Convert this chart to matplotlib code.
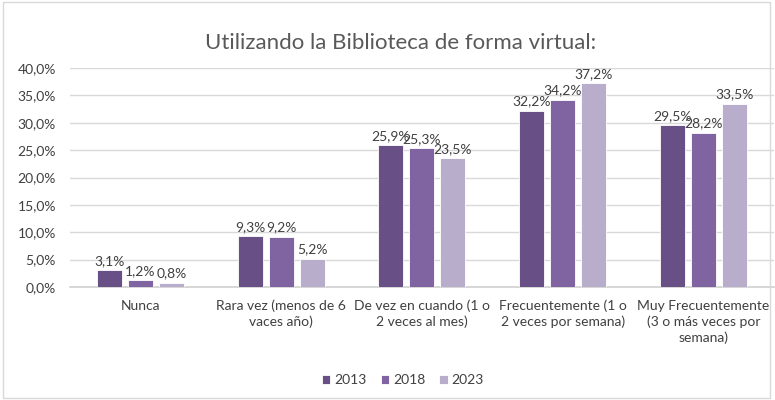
import numpy as np
import matplotlib.pyplot as plt
from matplotlib.patches import Rectangle

categories = ['Nunca', 'Rara vez (menos de 6\nvaces año)', 'De vez en cuando (1 o\n2 veces al mes)',
              'Frecuentemente (1 o\n2 veces por semana)', 'Muy Frecuentemente\n(3 o más veces por\nsemana)']
years = ['2013', '2018', '2023']
v2013 = [3.1, 9.3, 25.9, 32.2, 29.5]
v2018 = [1.2, 9.2, 25.3, 34.2, 28.2]
v2023 = [0.8, 5.2, 23.5, 37.2, 33.5]
colors = ['#684f86', '#8064a2', '#b8aecb']

plt.rcParams['font.family'] = ['Lato', 'DejaVu Sans']

fig = plt.figure(figsize=(7.75, 4), dpi=100)
ax = fig.add_axes([0.0903, 0.2825, 0.908, 0.5475])

x = np.arange(len(categories))
width = 0.177
offset = 0.22
for i, (vals, yr) in enumerate(zip([v2013, v2018, v2023], years)):
    pos = x + (i - 1) * offset
    ax.bar(pos, vals, width, color=colors[i], label=yr, edgecolor='white', linewidth=0.6, zorder=3)
    for p, v in zip(pos, vals):
        ax.text(p, v + 0.6, f'{v:.1f}%'.replace('.', ','), ha='center', va='bottom',
                fontsize=10, color='#404040')

ax.set_xlim(-0.5, len(categories) - 0.5)
ax.set_ylim(0, 40)
ax.set_yticks(np.arange(0, 41, 5))
ax.set_yticklabels([f'{t:.1f}%'.replace('.', ',') for t in np.arange(0, 41, 5)])
ax.set_xticks(x)
ax.set_xticklabels(categories, fontsize=10, color='#404040', linespacing=1.35)
ax.tick_params(axis='y', labelsize=10, labelcolor='#404040', length=0, pad=10)
ax.tick_params(axis='x', length=0, pad=9)
ax.grid(axis='y', color='#d9d9d9', linewidth=1, zorder=0)
for s in ['top', 'right', 'left']:
    ax.spines[s].set_visible(False)
ax.spines['bottom'].set_color('#d0d0d0')
ax.spines['bottom'].set_linewidth(1.2)

ax.set_title('Utilizando la Biblioteca de forma virtual:', fontsize=16, color='#595959',
             x=0.47, pad=14)

fig.legend(loc='center', bbox_to_anchor=(0.52, 0.05), ncol=3, frameon=False, fontsize=10,
           handlelength=0.6, handleheight=0.6, handletextpad=0.3, columnspacing=1.0,
           labelcolor='#404040')

fig.patches.append(Rectangle((0.004, 0.004), 0.99, 0.99, transform=fig.transFigure,
                             fill=False, edgecolor='#d9d9d9', linewidth=1))

fig.savefig('out.png', dpi=100)
